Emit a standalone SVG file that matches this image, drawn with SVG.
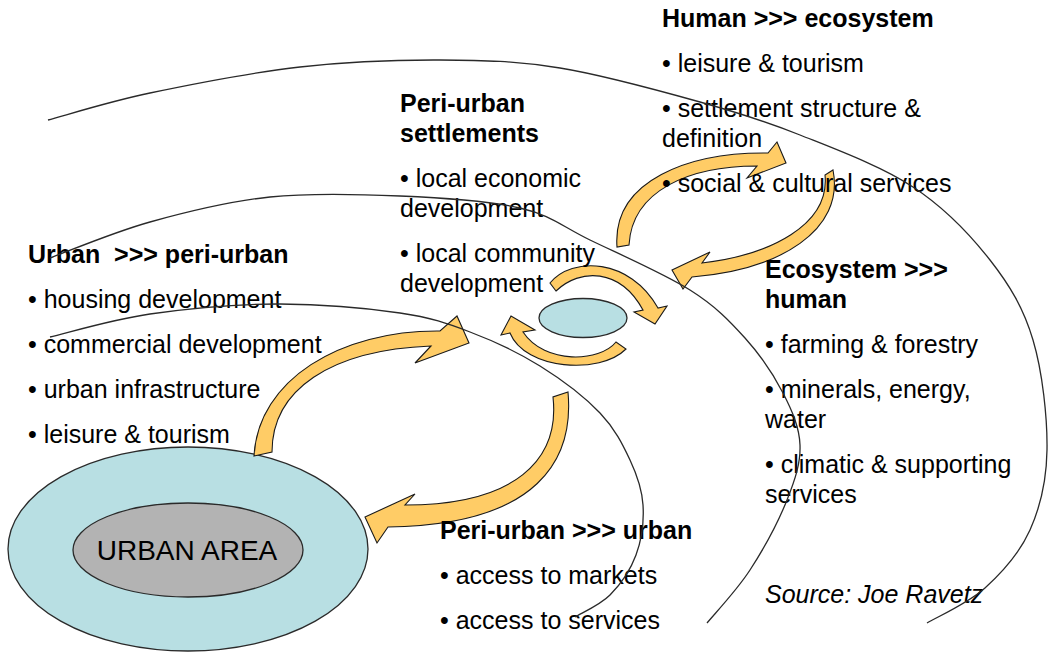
<svg xmlns="http://www.w3.org/2000/svg" width="1049" height="652" viewBox="0 0 1049 652">
  <style>
    .t { font-family: "Liberation Sans", Arial, sans-serif; font-size: 25px; fill: #000; }
    .b { font-weight: bold; }
    .i { font-style: italic; }
    .ring { fill: none; stroke: #2a2a2a; stroke-width: 1.3; }
    .arr { fill: #ffcc66; stroke: #1a1a1a; stroke-width: 1.1; stroke-linejoin: miter; }
    .ell { stroke: #2a2a2a; stroke-width: 1.3; }
  </style>
  <rect width="1049" height="652" fill="#ffffff"/>

  <g id="urban-area">
    <ellipse class="ell" cx="188" cy="549" rx="180" ry="102" fill="#b8dfe3"/>
    <ellipse class="ell" cx="188" cy="550" rx="115" ry="47" fill="#b3b3b3"/>
    <text class="t" x="187" y="560" text-anchor="middle" style="font-size:28px">URBAN AREA</text>
  </g>

  <g id="settlement">
    <ellipse class="ell" cx="583" cy="318" rx="44" ry="19.5" fill="#b8dfe3"/>
  </g>

  <g id="connectors">
    <path class="arr" d="M 254,456 C 258,380 340,330 440,331 L 457,316 L 469,343 L 415,363 L 431,346 C 330,350 272,390 272,452 Z"/>
    <path class="arr" d="M 553,397 C 560,460 515,505 405,505 L 415,494 L 365,517 L 377,543 L 388,527 C 540,525 574,458 568,392 Z"/>
    <path class="arr" d="M 550,283 C 572,256 630,258 658,308 L 667,306 L 655,324 L 634,312 L 643,310 C 620,268 580,268 556,291 Z"/>
    <path class="arr" d="M 616,342 C 600,362 545,365 523,332 L 535,330 L 511,316 L 501,335 L 510,333 C 525,370 600,375 626,349 Z"/>
    <path class="arr" d="M 617,247 C 612,180 690,152 768,153 L 777,142 L 786,163 L 747,178 L 757,166 C 690,166 632,190 629,245 Z"/>
    <path class="arr" d="M 825,175 C 830,225 770,255 702,263 L 710,252 L 672,270 L 683,289 L 692,277 C 780,270 845,230 833,170 Z"/>
  </g>

  <g id="text-urban-to-periurban">
    <text class="t b" x="28" y="263" xml:space="preserve">Urban  &gt;&gt;&gt; peri-urban</text>
    <text class="t" x="28" y="308">• housing development</text>
    <text class="t" x="28" y="353">• commercial development</text>
    <text class="t" x="28" y="398">• urban infrastructure</text>
    <text class="t" x="28" y="443">• leisure &amp; tourism</text>
  </g>

  <g id="text-periurban-settlements">
    <text class="t b" x="400" y="112">Peri-urban</text>
    <text class="t b" x="400" y="142">settlements</text>
    <text class="t" x="400" y="187">• local economic</text>
    <text class="t" x="400" y="217">development</text>
    <text class="t" x="400" y="262">• local community</text>
    <text class="t" x="400" y="292">development</text>
  </g>

  <g id="text-human-to-ecosystem">
    <text class="t b" x="662" y="27">Human &gt;&gt;&gt; ecosystem</text>
    <text class="t" x="662" y="72">• leisure &amp; tourism</text>
    <text class="t" x="662" y="117">• settlement structure &amp;</text>
    <text class="t" x="662" y="147">definition</text>
    <text class="t" x="662" y="192">• social &amp; cultural services</text>
  </g>

  <g id="text-ecosystem-to-human">
    <text class="t b" x="765" y="278">Ecosystem &gt;&gt;&gt;</text>
    <text class="t b" x="765" y="308">human</text>
    <text class="t" x="765" y="353">• farming &amp; forestry</text>
    <text class="t" x="765" y="398">• minerals, energy,</text>
    <text class="t" x="765" y="428">water</text>
    <text class="t" x="765" y="473">• climatic &amp; supporting</text>
    <text class="t" x="765" y="503">services</text>
  </g>

  <g id="text-periurban-to-urban">
    <text class="t b" x="440" y="539">Peri-urban &gt;&gt;&gt; urban</text>
    <text class="t" x="440" y="584">• access to markets</text>
    <text class="t" x="440" y="629">• access to services</text>
  </g>

  <g id="source">
    <text class="t i" x="765" y="603">Source: Joe Ravetz</text>
  </g>

  <g id="rings">
    <path class="ring" d="M 48,120 C 65,115.5 108,101.8 150,93 C 192,84.2 251.7,72.5 300,67 C 348.3,61.5 396.7,59.8 440,60 C 483.3,60.2 516.7,61 560,68 C 603.3,75 660,90.8 700,102 C 740,113.2 764.5,120.8 800,135 C 835.5,149.2 881.3,166.2 913,187 C 944.7,207.8 970,234.5 990,260 C 1010,285.5 1023.5,308.3 1033,340 C 1042.5,371.7 1047.5,418.3 1047,450 C 1046.5,481.7 1040.3,507 1030,530 C 1019.7,553 1002.2,572.5 985,588 C 967.8,603.5 936.7,617.2 927,623"/>
    <path class="ring" d="M 50,258 C 66.7,252 113.3,232.2 150,222 C 186.7,211.8 228.3,201.3 270,197 C 311.7,192.7 358.3,194.2 400,196 C 441.7,197.8 488.3,200.7 520,208 C 551.7,215.3 561.7,226.3 590,240 C 618.3,253.7 664.2,273.7 690,290 C 715.8,306.3 729.5,320.8 745,338 C 760.5,355.2 773.8,375.2 783,393 C 792.2,410.8 799.3,427.2 800,445 C 800.7,462.8 795.3,479.2 787,500 C 778.7,520.8 763.3,549.5 750,570 C 736.7,590.5 714.2,614.2 707,623"/>
    <path class="ring" d="M 50,337 C 66.7,333.2 111.7,319.5 150,314 C 188.3,308.5 238.3,303.8 280,304 C 321.7,304.2 368.3,308.3 400,313 C 431.7,317.7 446.7,323.2 470,332 C 493.3,340.8 518.3,352.5 540,366 C 561.7,379.5 585,397.3 600,413 C 615,428.7 622.8,444.7 630,460 C 637.2,475.3 642,489.2 643,505 C 644,520.8 641.5,540 636,555 C 630.5,570 620.2,584.7 610,595 C 599.8,605.3 580.8,613.3 575,617"/>
  </g>
</svg>
